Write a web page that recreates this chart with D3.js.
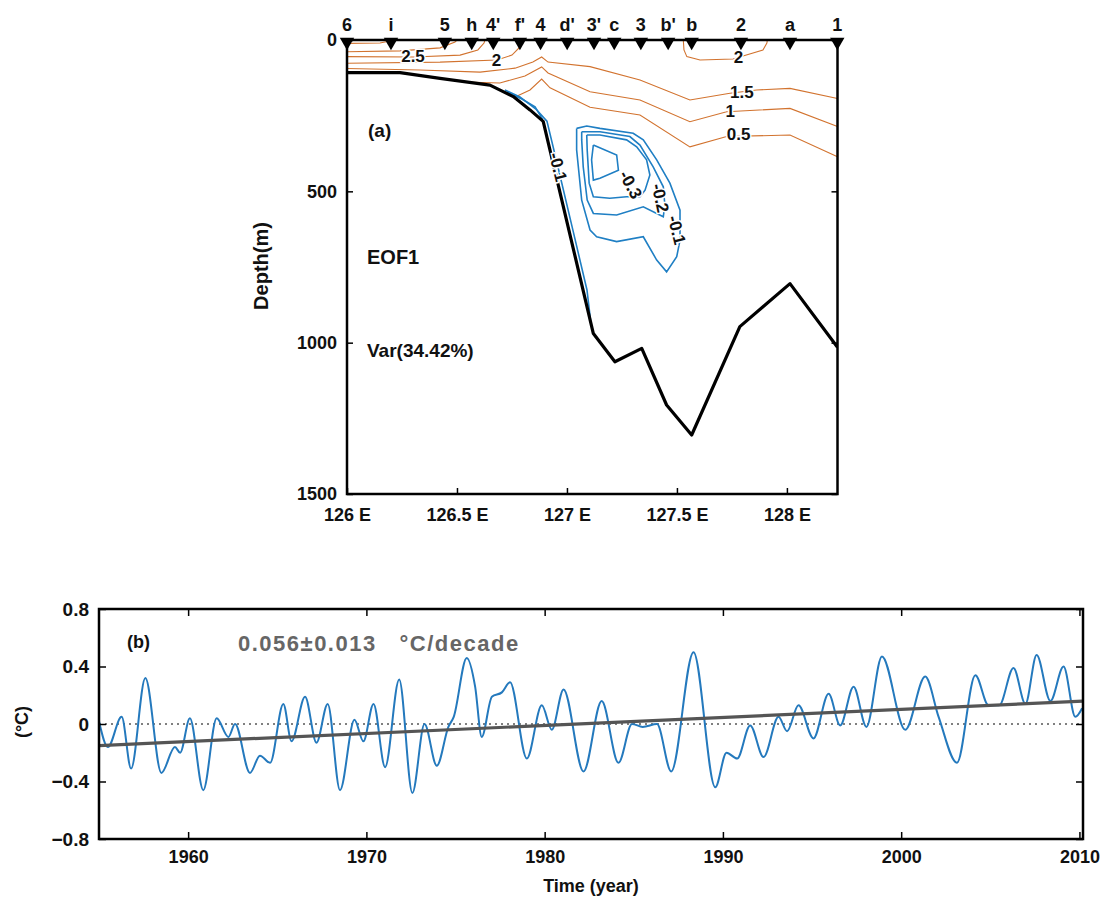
<!DOCTYPE html>
<html><head><meta charset="utf-8">
<script src="https://cdn.jsdelivr.net/npm/d3@7"></script>
<style>
body{margin:0;background:#fff;}
text{font-family:"Liberation Sans",Arial,sans-serif;}
</style></head>
<body><svg id="c" width="1112" height="907"></svg>
<script>
// ---------- Panel (a) data ----------
const stations = ["6","i","5","h","4'","f'","4","d'","3'","c","3","b'","b","2","a","1"];
const stationLon = [126.0,126.2,126.445,126.567,126.665,126.786,126.88,127.001,127.123,127.215,127.336,127.46,127.567,127.791,128.014,128.229];
const lonTicks = [126,126.5,127,127.5,128];
const depthTicks = [0,500,1000,1500];
const bathymetry = [[126.0,108],[126.241,108],[126.423,127],[126.65,149],[126.756,187],[126.832,231],[126.892,269],[127.12,970],[127.218,1063],[127.34,1019],[127.453,1206],[127.567,1305],[127.786,947],[128.014,805],[128.23,1015]];
// warm (positive) contours
const pos35 = [[126.0,11],[126.15,10],[126.218,0]];
const pos30 = [[126.0,39],[126.241,36],[126.423,26],[126.491,7],[126.5,0]];
const pos25 = [[126.0,55],[126.305,56],[126.514,50],[126.595,33],[126.623,10],[126.627,0]];
const pos20 = [[126.0,77],[126.423,73],[126.682,66],[126.75,50],[126.782,26],[126.791,0]];
const pos20b = [[127.529,0],[127.532,33],[127.545,55],[127.605,66],[127.755,63],[127.891,33],[127.909,10],[127.911,0]];
const pos15 = [[126.0,94],[126.332,99],[126.605,106],[126.764,93],[126.845,73],[126.885,56],[126.914,73],[127.105,88],[127.332,132],[127.559,198],[127.741,176],[127.862,165],[128.014,160],[128.23,193]];
const pos10 = [[126.536,139],[126.695,142],[126.809,119],[126.885,89],[126.914,109],[127.105,171],[127.332,198],[127.559,270],[127.726,237],[128.014,226],[128.23,286]];
const pos05 = [[126.764,188],[126.832,165],[126.885,129],[126.923,158],[127.105,222],[127.332,248],[127.559,353],[127.726,319],[128.014,314],[128.23,386]];
// cold (negative) contours
const negSlope1 = [[126.718,165],[126.786,188],[126.859,228],[126.909,268],[126.957,413],[127.027,628],[127.091,826],[127.107,925]];
const negSlope2 = [[126.727,172],[126.795,195],[126.855,221],[126.889,262]];
const neg01 = [[127.044,292],[127.09,284],[127.15,292],[127.301,308],[127.347,330],[127.408,396],[127.468,473],[127.514,562],[127.514,661],[127.499,716],[127.453,766],[127.408,727],[127.347,650],[127.226,666],[127.135,650],[127.105,628],[127.067,529],[127.044,363],[127.044,292]];
const neg02 = [[127.067,303],[127.15,303],[127.286,319],[127.332,347],[127.392,419],[127.438,485],[127.445,545],[127.438,584],[127.347,551],[127.226,578],[127.12,573],[127.092,529],[127.074,419],[127.067,330],[127.067,303]];
const neg03 = [[127.09,314],[127.15,314],[127.271,330],[127.317,353],[127.362,396],[127.377,446],[127.355,496],[127.332,518],[127.271,518],[127.195,523],[127.12,518],[127.101,473],[127.092,363],[127.09,314]];
const neg04 = [[127.12,347],[127.226,380],[127.234,430],[127.15,457],[127.12,463],[127.112,396],[127.12,347]];
const posLabels = [["2.5",126.3,53,0],["2",126.68,67,0],["2",127.78,56,0],["1.5",127.795,172,0],["1",127.742,234,0],["0.5",127.78,312,0]];
const negLabels = [["-0.1",126.96,420,76],["-0.3",127.29,478,62],["-0.2",127.425,522,78],["-0.1",127.5,628,76]];

// ---------- Panel (b) data ----------
const years = [1955.0,1955.5,1956.27,1956.8,1957.6,1958.5,1959.26,1959.55,1960.1,1960.85,1961.6,1962.26,1962.63,1963.47,1964.03,1964.6,1965.34,1965.8,1966.56,1967.2,1967.83,1968.52,1969.33,1969.83,1970.4,1971.05,1971.84,1972.58,1973.26,1973.95,1974.6,1974.9,1975.63,1976.1,1976.47,1977.04,1977.6,1978.06,1979.0,1979.84,1980.4,1981.06,1982.18,1983.2,1984.14,1984.9,1985.5,1986.3,1987.1,1988.35,1989.57,1990.2,1990.8,1991.53,1992.28,1993.12,1993.6,1994.24,1995.08,1995.93,1996.58,1997.33,1998.05,1998.92,2000.23,2001.35,2002.1,2003.13,2004.16,2004.9,2005.5,2006.3,2006.97,2007.6,2008.37,2009.11,2009.77,2010.15];
const anomaly = [0.02,-0.16,0.05,-0.31,0.32,-0.34,-0.16,-0.20,0.04,-0.46,0.04,-0.09,0.0,-0.34,-0.22,-0.27,0.14,-0.12,0.19,-0.13,0.14,-0.46,0.03,-0.12,0.14,-0.30,0.31,-0.48,0.0,-0.29,-0.02,0.05,0.46,0.26,-0.09,0.19,0.22,0.29,-0.24,0.13,-0.04,0.24,-0.33,0.16,-0.27,0.0,-0.02,0.0,-0.33,0.50,-0.44,-0.20,-0.24,-0.01,-0.23,0.05,-0.05,0.13,-0.10,0.21,-0.01,0.26,-0.02,0.47,-0.04,0.33,0.05,-0.27,0.34,0.13,0.13,0.39,0.14,0.48,0.16,0.40,0.05,0.11];
const trendYears = [1955,2010.2];
const trendValues = [-0.15,0.159];
const yearTicks = [1960,1970,1980,1990,2000,2010];
const tempTicks = [-0.8,-0.4,0,0.4,0.8];

const svg = d3.select("#c");

// ================= Panel (a) =================
const xA = d3.scaleLinear([126,128.23],[347,837.5]);
const yA = d3.scaleLinear([0,1500],[40,494]);
const gA = svg.append("g");
gA.append("clipPath").attr("id","clipA").append("rect")
  .attr("x",xA(126)).attr("y",yA(0)).attr("width",xA(128.23)-xA(126)).attr("height",yA(1500)-yA(0));
const lineA = d3.line().x(d=>xA(d[0])).y(d=>yA(d[1]));
const plotA = gA.append("g").attr("clip-path","url(#clipA)");
const orange = "#d2732f", blue = "#1f7fc4";
[pos35,pos30,pos25,pos20,pos20b,pos15,pos10,pos05].forEach(c=>{
  plotA.append("path").attr("d",lineA(c)).attr("fill","none").attr("stroke",orange).attr("stroke-width",1.1);
});
[negSlope1,negSlope2,neg01,neg02,neg03,neg04].forEach(c=>{
  plotA.append("path").attr("d",lineA(c)).attr("fill","none").attr("stroke",blue).attr("stroke-width",1.6);
});
plotA.append("path").attr("d",lineA(bathymetry)).attr("fill","none").attr("stroke","#000").attr("stroke-width",3.2).attr("stroke-linejoin","round");
// contour labels
posLabels.concat(negLabels).forEach(l=>{
  gA.append("text").attr("transform",`translate(${xA(l[1])},${yA(l[2])}) rotate(${l[3]})`)
    .attr("text-anchor","middle").attr("dy","0.35em")
    .attr("font-size","17px").attr("font-weight","bold").attr("fill","#111")
    .attr("stroke","#fff").attr("stroke-width",3).attr("paint-order","stroke")
    .text(l[0]);
});
// axes
const axL = gA.append("g").attr("transform",`translate(${xA(126)},0)`)
  .call(d3.axisLeft(yA).tickValues(depthTicks).tickSize(-6).tickPadding(10).tickFormat(d3.format("d")));
const axR = gA.append("g").attr("transform",`translate(${xA(128.23)},0)`)
  .call(d3.axisRight(yA).tickValues(depthTicks).tickSize(-6).tickFormat(""));
const axB = gA.append("g").attr("transform",`translate(0,${yA(1500)})`)
  .call(d3.axisBottom(xA).tickValues(lonTicks).tickSize(-6).tickPadding(14).tickFormat(d=>d+" E"));
[axL,axR,axB].forEach(a=>{
  a.select(".domain").remove();
  a.selectAll("line").attr("stroke","#000").attr("stroke-width",1.5);
  a.selectAll("text").attr("font-size","18px").attr("font-weight","bold").attr("fill","#111").style("font-family","Liberation Sans, Arial, sans-serif");
});
gA.append("rect").attr("x",xA(126)).attr("y",yA(0)).attr("width",xA(128.23)-xA(126)).attr("height",yA(1500)-yA(0))
  .attr("fill","none").attr("stroke","#000").attr("stroke-width",2.5);
// stations
const tri = d3.symbol().type(d3.symbolTriangle).size(90);
stations.forEach((s,i)=>{
  const x = xA(stationLon[i]);
  gA.append("path").attr("d",tri()).attr("transform",`translate(${x},${yA(0)+2}) rotate(180)`).attr("fill","#000");
  gA.append("text").attr("x",x).attr("y",yA(0)-9).attr("text-anchor","middle")
    .attr("font-size","18px").attr("font-weight","bold").attr("fill","#111").text(s);
});
gA.append("text").attr("x",368).attr("y",137).attr("font-size","19px").attr("font-weight","bold").attr("fill","#111").text("(a)");
gA.append("text").attr("x",367).attr("y",264).attr("font-size","20px").attr("font-weight","bold").attr("fill","#111").text("EOF1");
gA.append("text").attr("x",367).attr("y",357).attr("font-size","19px").attr("font-weight","bold").attr("fill","#111").text("Var(34.42%)");
gA.append("text").attr("transform","translate(268,266) rotate(-90)").attr("text-anchor","middle")
  .attr("font-size","20px").attr("font-weight","bold").attr("fill","#111").text("Depth(m)");

// ================= Panel (b) =================
const xB = d3.scaleLinear([1955,2010.2],[99,1083]);
const yB = d3.scaleLinear([-0.8,0.8],[839,609]);
const gB = svg.append("g");
gB.append("clipPath").attr("id","clipB").append("rect")
  .attr("x",xB(1955)).attr("y",yB(0.8)).attr("width",xB(2010.2)-xB(1955)).attr("height",yB(-0.8)-yB(0.8));
const plotB = gB.append("g").attr("clip-path","url(#clipB)");
plotB.append("line").attr("x1",xB(1955)).attr("x2",xB(2010.2)).attr("y1",yB(0)).attr("y2",yB(0))
  .attr("stroke","#000").attr("stroke-width",1).attr("stroke-dasharray","2,4");
const series = years.map((y,i)=>[y,anomaly[i]]);
plotB.append("path").attr("d",d3.line().x(d=>xB(d[0])).y(d=>yB(d[1])).curve(d3.curveMonotoneX)(series))
  .attr("fill","none").attr("stroke","#2479bd").attr("stroke-width",2);
const trend = trendYears.map((y,i)=>[y,trendValues[i]]);
plotB.append("path").attr("d",d3.line().x(d=>xB(d[0])).y(d=>yB(d[1]))(trend))
  .attr("fill","none").attr("stroke","#555").attr("stroke-width",3.2);
const bL = gB.append("g").attr("transform",`translate(${xB(1955)},0)`)
  .call(d3.axisLeft(yB).tickValues(tempTicks).tickSize(-7).tickPadding(10).tickFormat(d=>d===0?"0":d3.format(".1f")(d)));
const bR = gB.append("g").attr("transform",`translate(${xB(2010.2)},0)`)
  .call(d3.axisRight(yB).tickValues(tempTicks).tickSize(-7).tickFormat(""));
const bB = gB.append("g").attr("transform",`translate(0,${yB(-0.8)})`)
  .call(d3.axisBottom(xB).tickValues(yearTicks).tickSize(-7).tickPadding(11).tickFormat(d3.format("d")));
const bT = gB.append("g").attr("transform",`translate(0,${yB(0.8)})`)
  .call(d3.axisTop(xB).tickValues(yearTicks).tickSize(-7).tickFormat(""));
[bL,bR,bB,bT].forEach(a=>{
  a.select(".domain").remove();
  a.selectAll("line").attr("stroke","#000").attr("stroke-width",1.5);
  a.selectAll("text").attr("font-size","18px").attr("font-weight","bold").attr("fill","#111").style("font-family","Liberation Sans, Arial, sans-serif");
});
bL.selectAll("text").attr("font-size","19px");
gB.append("rect").attr("x",xB(1955)).attr("y",yB(0.8)).attr("width",xB(2010.2)-xB(1955)).attr("height",yB(-0.8)-yB(0.8))
  .attr("fill","none").attr("stroke","#000").attr("stroke-width",2.5);
gB.append("text").attr("x",127).attr("y",648).attr("font-size","18px").attr("font-weight","bold").attr("fill","#111").text("(b)");
gB.append("text").attr("x",238).attr("y",651).attr("font-size","22px").attr("font-weight","bold").attr("fill","#666")
  .attr("letter-spacing","1.5px").attr("xml:space","preserve").style("white-space","pre").text("0.056\u00B10.013   \u00B0C/decade");
gB.append("text").attr("transform","translate(28,722) rotate(-90)").attr("text-anchor","middle")
  .attr("font-size","18px").attr("font-weight","bold").attr("fill","#111").text("(\u00B0C)");
gB.append("text").attr("x",591).attr("y",892).attr("text-anchor","middle")
  .attr("font-size","18px").attr("font-weight","bold").attr("fill","#111").text("Time (year)");
</script></body></html>
